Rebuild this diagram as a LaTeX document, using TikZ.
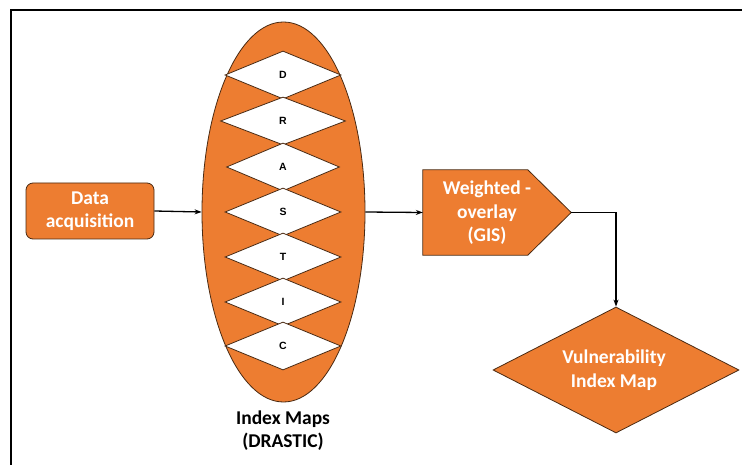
\documentclass[tikz,border=0pt]{standalone}
\usepackage{fontspec}
\setmainfont{Carlito}
\newfontfamily\letterfont{Liberation Sans}
\usetikzlibrary{shapes.geometric,arrows.meta,calc}
\definecolor{org}{HTML}{ED7D31}
\definecolor{edgec}{HTML}{4A2A12}
\tikzset{
  arr/.style={draw=black, line width=1.3pt, -{Stealth[length=7pt,width=5pt]}},
  orgbox/.style={fill=org, draw=edgec, line width=0.8pt},
  wtext/.style={text=white, font=\fontsize{19.5}{23.5}\selectfont\bfseries, align=center},
  btext/.style={text=black, font=\fontsize{19.5}{23}\selectfont\bfseries, align=center},
  dmd/.style={diamond, draw=edgec, fill=white, line width=0.8pt, inner sep=0pt,
    font=\letterfont\fontsize{10.5}{11}\selectfont\bfseries},
}
\begin{document}
\begin{tikzpicture}[x=1pt,y=-1pt]
\useasboundingbox (0,0) rectangle (742,465);
% frame
\draw[line width=2.5pt, black] (11,465) -- (11,10) -- (742,10);
% data acquisition
\node[orgbox, rounded corners=7pt, minimum width=128, minimum height=56, inner sep=0pt, wtext] (da) at (90,211) {Data\\acquisition};
% ellipse
\node[ellipse, orgbox, minimum width=163, minimum height=380, inner sep=0pt] (ell) at (283.5,212) {};
% diamonds
\node[dmd, minimum width=116, minimum height=48] (d1) at (283,75) {D};
\node[dmd, minimum width=125, minimum height=48] (d2) at (283,121) {R};
\node[dmd, minimum width=113, minimum height=48] (d3) at (283,167) {A};
\node[dmd, minimum width=116, minimum height=48] (d4) at (283,212) {S};
\node[dmd, minimum width=116, minimum height=48] (d5) at (283,257) {T};
\node[dmd, minimum width=116, minimum height=48] (d6) at (283,302) {I};
\node[dmd, minimum width=116, minimum height=48] (d7) at (283,346) {C};
\node[btext] (lab) at (283,431) {Index Maps\\(DRASTIC)};
% weighted overlay
\node[minimum width=148, minimum height=85, inner sep=0pt] (wo) at (497,212.5) {};
\draw[orgbox] (wo.north west) -- ($(wo.north west)+(105,0)$) -- (wo.east) -- ($(wo.south west)+(105,0)$) -- (wo.south west) -- cycle;
\node[wtext] (wot) at (487,213) {Weighted -\\overlay\\(GIS)};
% vulnerability
\node[diamond, orgbox, minimum width=246, minimum height=126, inner sep=0pt] (vim) at (616,370) {};
\node[wtext] (vimt) at (614,370) {Vulnerability\\Index Map};
% connectors
\draw[arr] (da.east) -- (ell.west);
\draw[arr] (ell.east) -- (wo.west);
\draw[arr] (wo.east) -| (vim.north);
\end{tikzpicture}
\end{document}
